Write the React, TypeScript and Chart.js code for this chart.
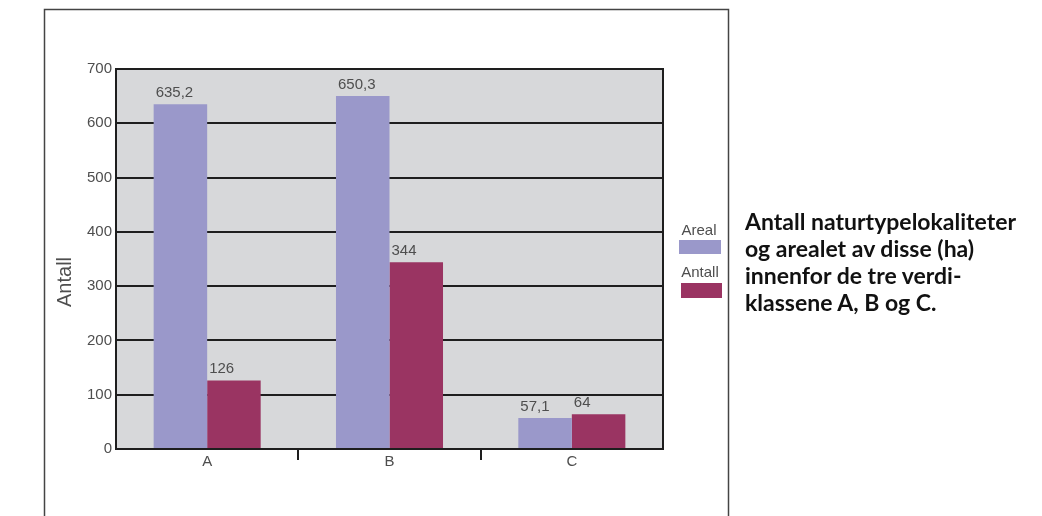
import React, { useEffect, useRef } from "react";
import { Chart, registerables } from "chart.js";

Chart.register(...registerables);

const categories = ["A", "B", "C"];
const seriesNames = ["Areal", "Antall"];
const arealValues = [635.2, 650.3, 57.1];
const antallValues = [126, 344, 64];
const arealLabels = ["635,2", "650,3", "57,1"];
const antallLabels = ["126", "344", "64"];
const yMin = 0;
const yMax = 700;
const yStep = 100;
const yTitle = "Antall";
const titleLines = [
  "Antall naturtypelokaliteter",
  "og arealet av disse (ha)",
  "innenfor de tre verdi-",
  "klassene A, B og C.",
];

const AREAL_COLOR = "#9a98ca";
const ANTALL_COLOR = "#9a3462";
const PLOT_BG = "#d7d8da";
const LINE = "#1e1e1e";
const TEXT = "#4e4e4e";
const FONT = "'Liberation Sans', Arial, Helvetica, sans-serif";

const valueLabelSets = [arealLabels, antallLabels];

const customPlugin = {
  id: "custom",
  beforeDraw(chart: any) {
    const { ctx, chartArea } = chart;
    ctx.save();
    ctx.strokeStyle = "#444";
    ctx.lineWidth = 1.5;
    ctx.strokeRect(44.5, 9.5, 684, 560);
    ctx.fillStyle = PLOT_BG;
    ctx.fillRect(chartArea.left, chartArea.top, chartArea.right - chartArea.left, chartArea.bottom - chartArea.top);
    ctx.restore();
  },
  afterDatasetsDraw(chart: any) {
    const { ctx } = chart;
    ctx.save();
    ctx.font = `15px ${FONT}`;
    ctx.fillStyle = TEXT;
    ctx.textAlign = "left";
    ctx.textBaseline = "bottom";
    chart.data.datasets.forEach((ds: any, di: number) => {
      const meta = chart.getDatasetMeta(di);
      meta.data.forEach((el: any, i: number) => {
        const left = el.x - el.width / 2;
        ctx.fillText(valueLabelSets[di][i], left + 2, el.y - 4);
      });
    });
    ctx.restore();
  },
  afterDraw(chart: any) {
    const { ctx, chartArea, scales } = chart;
    ctx.save();
    ctx.strokeStyle = LINE;
    ctx.lineWidth = 2;
    ctx.beginPath();
    ctx.moveTo(chartArea.right, chartArea.top - 1);
    ctx.lineTo(chartArea.right, chartArea.bottom + 1);
    ctx.stroke();
    const xs = scales.x;
    for (let i = 0; i < categories.length - 1; i++) {
      const xm = Math.round((xs.getPixelForTick(i) + xs.getPixelForTick(i + 1)) / 2);
      ctx.beginPath();
      ctx.moveTo(xm, chartArea.bottom);
      ctx.lineTo(xm, chartArea.bottom + 11);
      ctx.stroke();
    }
    ctx.fillStyle = TEXT;
    ctx.font = `20px ${FONT}`;
    ctx.textAlign = "center";
    ctx.textBaseline = "middle";
    ctx.translate(65, 282);
    ctx.rotate(-Math.PI / 2);
    ctx.fillText(yTitle, 0, 0);
    ctx.setTransform(1, 0, 0, 1, 0, 0);
    ctx.font = `15px ${FONT}`;
    const legendPos = [
      { tx: 699, ty: 231, rx: 679, ry: 240, rw: 42, rh: 14 },
      { tx: 700, ty: 273, rx: 681, ry: 283, rw: 41, rh: 15 },
    ];
    chart.data.datasets.forEach((ds: any, di: number) => {
      const p = legendPos[di];
      ctx.fillStyle = TEXT;
      ctx.fillText(ds.label, p.tx, p.ty);
      ctx.fillStyle = ds.backgroundColor;
      ctx.fillRect(p.rx, p.ry, p.rw, p.rh);
    });
    ctx.restore();
  },
};

export default function App() {
  const canvasRef = useRef<HTMLCanvasElement | null>(null);

  useEffect(() => {
    const canvas = canvasRef.current;
    if (!canvas) return;
    const chart = new Chart(canvas, {
      type: "bar",
      data: {
        labels: categories,
        datasets: [
          {
            label: seriesNames[0],
            data: arealValues,
            backgroundColor: AREAL_COLOR,
            borderWidth: 0,
            barPercentage: 1,
            categoryPercentage: 0.587,
          },
          {
            label: seriesNames[1],
            data: antallValues,
            backgroundColor: ANTALL_COLOR,
            borderWidth: 0,
            barPercentage: 1,
            categoryPercentage: 0.587,
          },
        ],
      },
      options: {
        responsive: false,
        animation: false,
        events: [],
        layout: { padding: { left: 0, top: 69, right: 379, bottom: 0 } },
        plugins: {
          legend: { display: false },
          tooltip: { enabled: false },
          title: { display: false },
        },
        scales: {
          x: {
            grid: { display: false, drawTicks: false },
            border: { display: true, color: LINE, width: 2 },
            ticks: { color: TEXT, font: { size: 15, family: FONT }, padding: 4 },
            afterFit(scale: any) {
              scale.height = 67;
            },
          },
          y: {
            min: yMin,
            max: yMax,
            ticks: {
              stepSize: yStep,
              color: TEXT,
              font: { size: 15, family: FONT },
              padding: 4,
            },
            grid: { color: LINE, lineWidth: 2, drawTicks: false },
            border: { display: true, color: LINE, width: 2 },
            afterFit(scale: any) {
              scale.width = 116;
            },
          },
        },
      },
      plugins: [customPlugin],
    });
    return () => chart.destroy();
  }, []);

  return (
    <div style={{ position: "fixed", left: 0, top: 0, width: 1042, height: 516, background: "#fff", overflow: "hidden" }}>
      <canvas ref={canvasRef} width={1042} height={516} style={{ position: "absolute", left: 0, top: 0 }} />
      <div
        style={{
          position: "absolute",
          left: 745,
          top: 208,
          fontFamily: "Lato, 'Open Sans', sans-serif",
          fontWeight: 700,
          fontSize: 23,
          lineHeight: "27px",
          color: "#111",
          whiteSpace: "nowrap",
        }}
      >
        {titleLines.map((l, i) => (
          <div key={i}>{l}</div>
        ))}
      </div>
    </div>
  );
}
